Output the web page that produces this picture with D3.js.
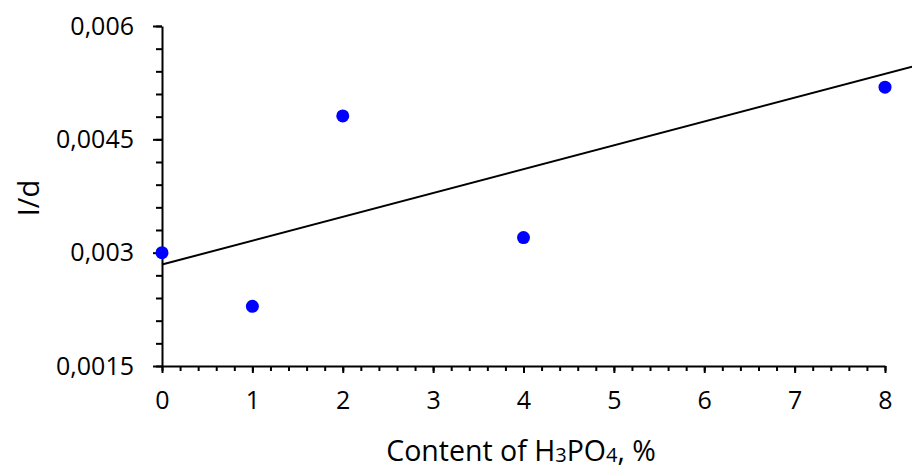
<!DOCTYPE html>
<html>
<head>
<meta charset="utf-8">
<script src="https://cdn.jsdelivr.net/npm/d3@7"></script>
<style>
  body { margin: 0; background: #fff; }
  text { font-family: "Open Sans", Lato, sans-serif; fill: #000; }
</style>
</head>
<body>
<svg id="chart"></svg>
<script>
// data
let contentX = [0, 1, 2, 4, 8];
let ratioY = [0.0030, 0.00229, 0.00481, 0.00320, 0.00519];
// trendline as drawn (it runs past the last point to the edge)
let trendX = [0, 8.3];
let trendY = [0.002843, 0.005461];
let xTicks = [0, 1, 2, 3, 4, 5, 6, 7, 8];
let yTicks = [0.0015, 0.003, 0.0045, 0.006];

let width = 912;
let height = 468;
let margin = { top: 26, left: 162, right: 27, bot: 102 };
let bodyWidth = width - margin.left - margin.right;
let bodyHeight = height - margin.top - margin.bot;

let svg = d3.select('#chart')
  .attr('width', width)
  .attr('height', height);

let xScale = d3.scaleLinear()
  .domain([0, 8])
  .range([0, bodyWidth]);
let yScale = d3.scaleLinear()
  .domain([0.0015, 0.006])
  .range([bodyHeight, 0]);

let locale = d3.formatLocale({ decimal: ',', thousands: ' ', grouping: [3], currency: ['', ''] });
let yFmt = locale.format('~g');

let body = svg.append('g')
  .attr('transform', `translate(${margin.left},${margin.top})`);

// minor ticks first, majors on top
body.append('g')
  .attr('transform', `translate(0,${bodyHeight})`)
  .call(d3.axisBottom(xScale).ticks(32).tickSize(5).tickFormat(''))
  .call(g => g.select('.domain').remove())
  .selectAll('line').attr('stroke', '#000').attr('stroke-width', 2);
body.append('g')
  .call(d3.axisLeft(yScale).tickValues(d3.range(0.0015, 0.00601, 0.0003)).tickSize(6).tickFormat(''))
  .call(g => g.select('.domain').remove())
  .selectAll('line').attr('stroke', '#000').attr('stroke-width', 2);

let xAx = body.append('g')
  .attr('transform', `translate(0,${bodyHeight})`)
  .call(d3.axisBottom(xScale).tickValues(xTicks).tickSize(7).tickSizeOuter(0).tickPadding(18).tickFormat(d3.format('d')));
let yAx = body.append('g')
  .call(d3.axisLeft(yScale).tickValues(yTicks).tickSize(9).tickSizeOuter(0).tickPadding(19).tickFormat(yFmt));

for (let ax of [xAx, yAx]) {
  ax.select('.domain').attr('stroke', '#000').attr('stroke-width', 2);
  ax.selectAll('line').attr('stroke', '#000').attr('stroke-width', 2);
  ax.selectAll('text').style('font-size', '25px').attr('fill', '#000');
}

// trendline
body.append('path')
  .datum(d3.zip(trendX, trendY))
  .attr('d', d3.line().x(d => xScale(d[0])).y(d => yScale(d[1])))
  .attr('fill', 'none')
  .attr('stroke', '#000')
  .attr('stroke-width', 2);

// points
body.selectAll('.dot')
  .data(d3.zip(contentX, ratioY))
  .enter().append('circle')
  .attr('class', 'dot')
  .attr('cx', d => xScale(d[0]))
  .attr('cy', d => yScale(d[1]))
  .attr('r', 6.5)
  .attr('fill', '#0000ff');

// axis titles
let xTitle = svg.append('text')
  .attr('x', margin.left + 359)
  .attr('y', 461)
  .style('text-anchor', 'middle')
  .style('font-size', '28.5px');
xTitle.append('tspan').text('Content of H');
xTitle.append('tspan').text('3').style('font-size', '20px').attr('dy', 1);
xTitle.append('tspan').text('PO').attr('dy', -1);
xTitle.append('tspan').text('4').style('font-size', '20px').attr('dy', 1);
xTitle.append('tspan').text(', %').attr('dy', -1);

svg.append('text')
  .attr('transform', 'rotate(-90)')
  .attr('x', -198)
  .attr('y', 39)
  .style('text-anchor', 'middle')
  .style('font-size', '29px')
  .text('I/d');
</script>
</body>
</html>
